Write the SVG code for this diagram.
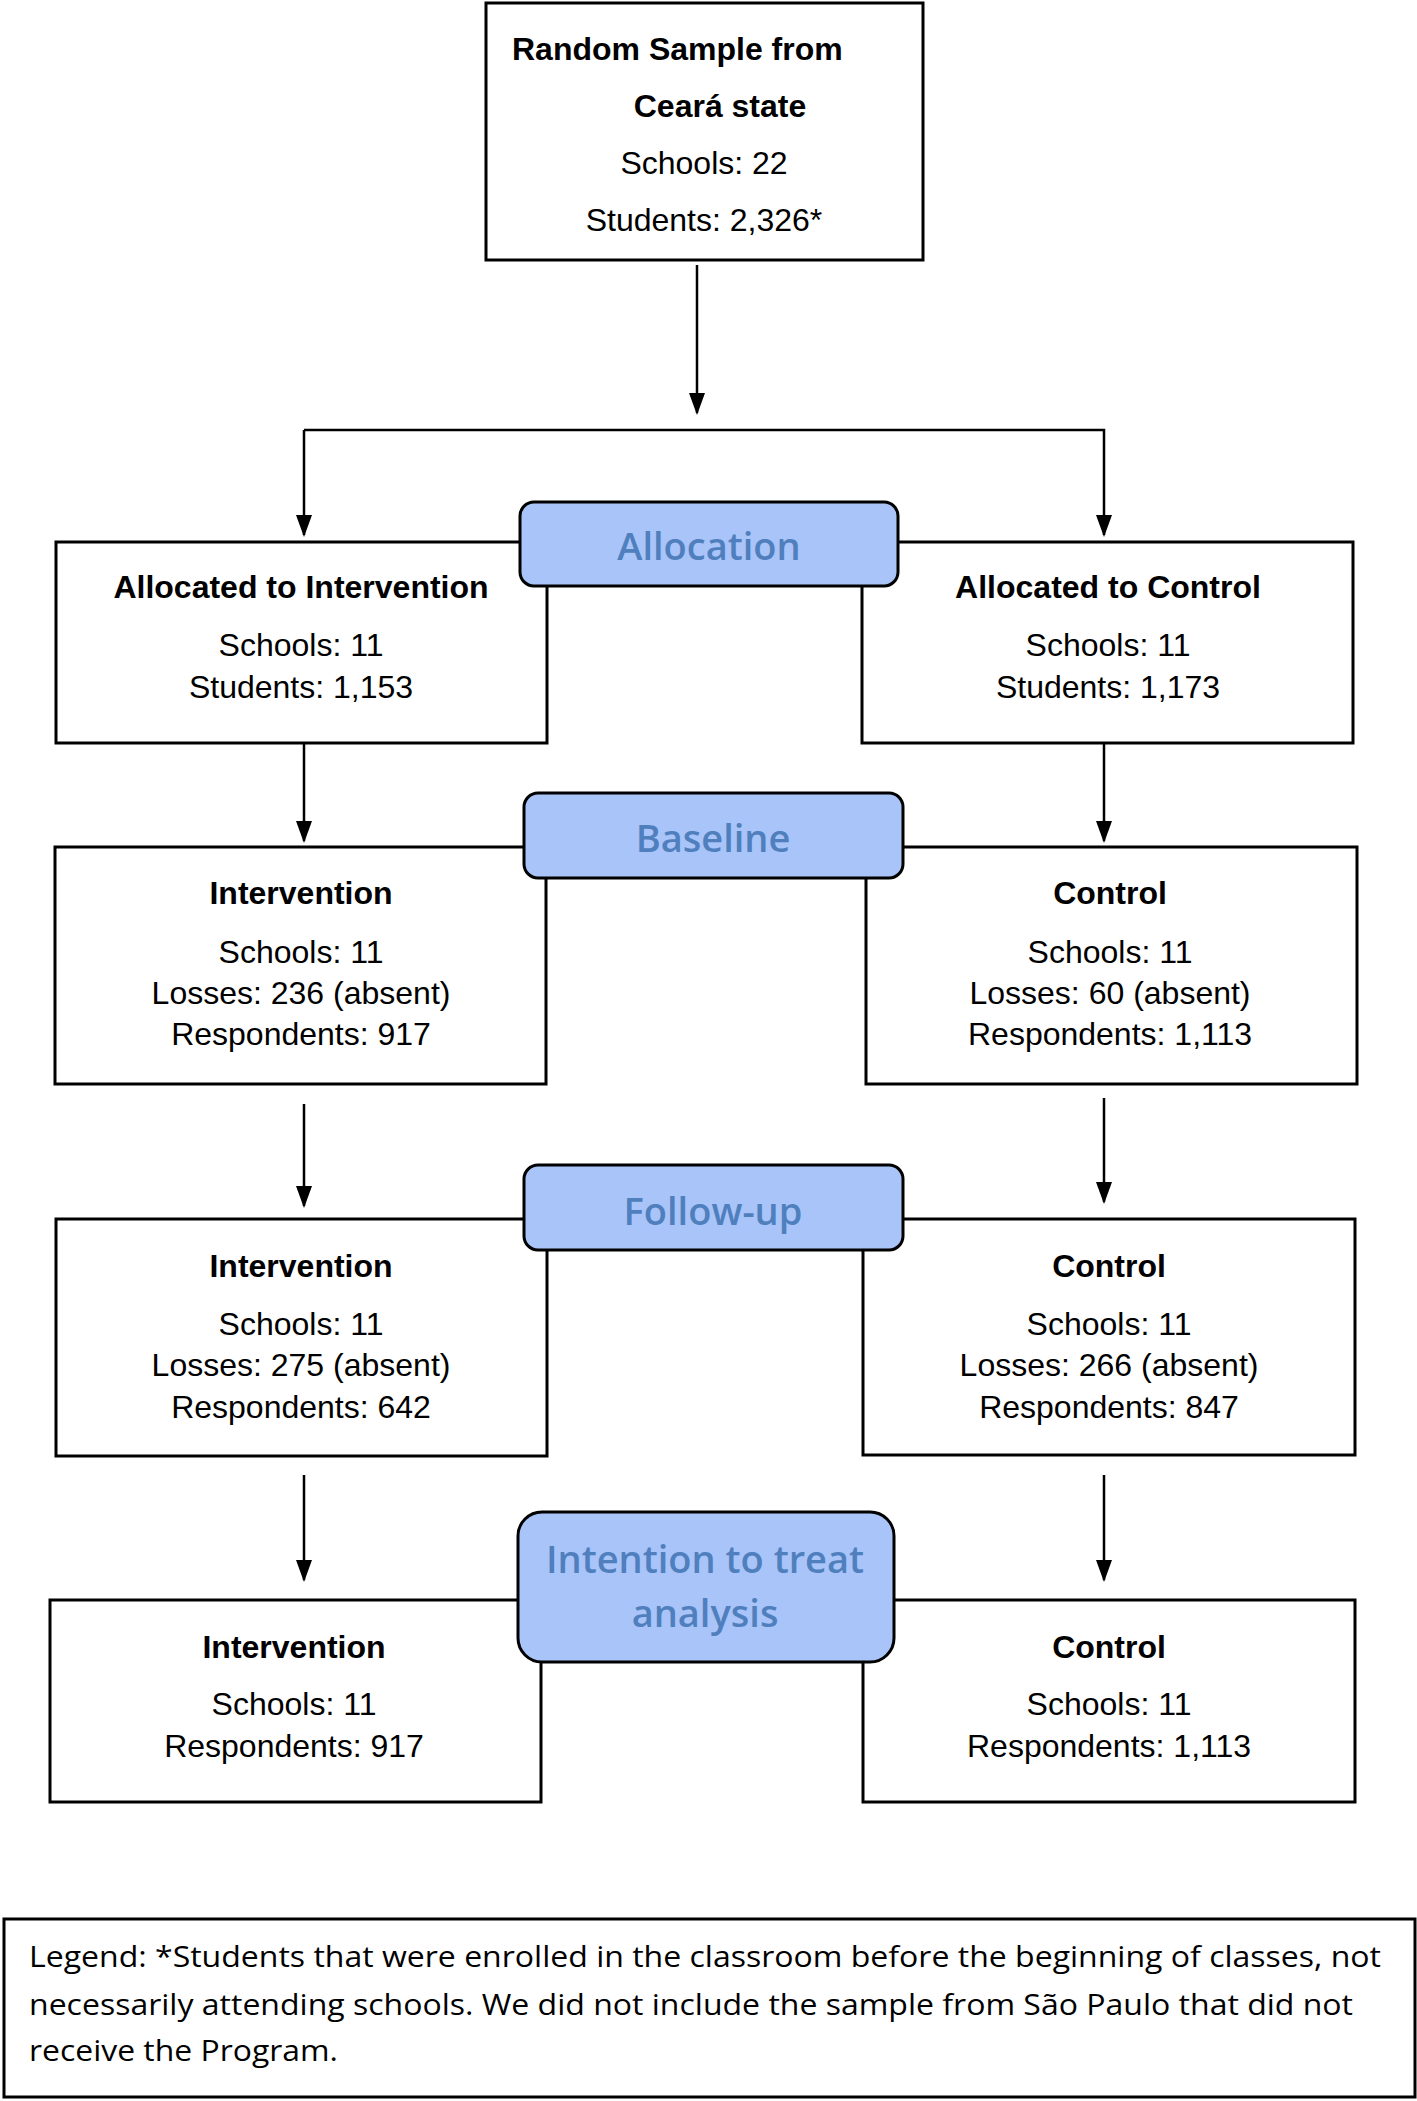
<svg xmlns="http://www.w3.org/2000/svg" width="1417" height="2101" viewBox="0 0 1417 2101">
<style>
.box{fill:#fff;stroke:#000;stroke-width:3}
.pill{fill:#a9c4f8;stroke:#000;stroke-width:3}
.t{font-family:"Liberation Sans",Arial,sans-serif;font-size:32px;text-anchor:middle;fill:#000}
.b{font-weight:bold}
.p{font-family:"Open Sans","Liberation Sans",sans-serif;font-size:38px;font-weight:600;fill:#4f7fbd;text-anchor:middle}
.l{font-family:"Open Sans","Liberation Sans",sans-serif;font-size:30px;fill:#000}
.c{stroke:#000;stroke-width:2.5;fill:none}
</style>
<defs><marker id="a" markerWidth="22" markerHeight="16" refX="20" refY="8" orient="auto" markerUnits="userSpaceOnUse" viewBox="0 0 22 16"><path d="M0,0 L22,8 L0,16 z" fill="#000"/></marker>
</defs>
<g id="connectors">
<line class="c" x1="697" y1="265" x2="697" y2="413" marker-end="url(#a)"/>
<polyline class="c" points="304,430 1104,430 1104,535" marker-end="url(#a)"/>
<line class="c" x1="304" y1="430" x2="304" y2="535" marker-end="url(#a)"/>
<line class="c" x1="304" y1="737" x2="304" y2="841" marker-end="url(#a)"/>
<line class="c" x1="1104" y1="743" x2="1104" y2="841" marker-end="url(#a)"/>
<line class="c" x1="304" y1="1104" x2="304" y2="1206" marker-end="url(#a)"/>
<line class="c" x1="1104" y1="1098" x2="1104" y2="1202" marker-end="url(#a)"/>
<line class="c" x1="304" y1="1475" x2="304" y2="1580" marker-end="url(#a)"/>
<line class="c" x1="1104" y1="1475" x2="1104" y2="1580" marker-end="url(#a)"/>
</g>
<g id="top"><rect class="box" x="486" y="3" width="437" height="257"/>
<text class="t b" x="512" y="60" style="text-anchor:start">Random Sample from</text>
<text class="t b" x="720" y="117">Ceará state</text>
<text class="t" x="704" y="174">Schools: 22</text>
<text class="t" x="704" y="231">Students: 2,326*</text></g>
<g id="allocInt"><rect class="box" x="56" y="542" width="491" height="201"/>
<text class="t b" x="301" y="598">Allocated to Intervention</text>
<text class="t" x="301" y="656">Schools: 11</text>
<text class="t" x="301" y="698">Students: 1,153</text></g>
<g id="allocCtl"><rect class="box" x="862" y="542" width="491" height="201"/>
<text class="t b" x="1108" y="598">Allocated to Control</text>
<text class="t" x="1108" y="656">Schools: 11</text>
<text class="t" x="1108" y="698">Students: 1,173</text></g>
<g id="allocation"><rect class="pill" x="520" y="502" width="378" height="84" rx="14"/>
<text class="p" x="709" y="560">Allocation</text></g>
<g id="baseInt"><rect class="box" x="55" y="847" width="491" height="237"/>
<text class="t b" x="301" y="904">Intervention</text>
<text class="t" x="301" y="963">Schools: 11</text>
<text class="t" x="301" y="1004">Losses: 236 (absent)</text>
<text class="t" x="301" y="1045">Respondents: 917</text></g>
<g id="baseCtl"><rect class="box" x="866" y="847" width="491" height="237"/>
<text class="t b" x="1110" y="904">Control</text>
<text class="t" x="1110" y="963">Schools: 11</text>
<text class="t" x="1110" y="1004">Losses: 60 (absent)</text>
<text class="t" x="1110" y="1045">Respondents: 1,113</text></g>
<g id="baseline"><rect class="pill" x="524" y="793" width="379" height="85" rx="14"/>
<text class="p" x="713" y="852">Baseline</text></g>
<g id="fuInt"><rect class="box" x="56" y="1219" width="491" height="237"/>
<text class="t b" x="301" y="1277">Intervention</text>
<text class="t" x="301" y="1335">Schools: 11</text>
<text class="t" x="301" y="1376">Losses: 275 (absent)</text>
<text class="t" x="301" y="1418">Respondents: 642</text></g>
<g id="fuCtl"><rect class="box" x="863" y="1219" width="492" height="236"/>
<text class="t b" x="1109" y="1277">Control</text>
<text class="t" x="1109" y="1335">Schools: 11</text>
<text class="t" x="1109" y="1376">Losses: 266 (absent)</text>
<text class="t" x="1109" y="1418">Respondents: 847</text></g>
<g id="followup"><rect class="pill" x="524" y="1165" width="379" height="85" rx="14"/>
<text class="p" x="713" y="1225">Follow-up</text></g>
<g id="ittInt"><rect class="box" x="50" y="1600" width="491" height="202"/>
<text class="t b" x="294" y="1658">Intervention</text>
<text class="t" x="294" y="1715">Schools: 11</text>
<text class="t" x="294" y="1757">Respondents: 917</text></g>
<g id="ittCtl"><rect class="box" x="863" y="1600" width="492" height="202"/>
<text class="t b" x="1109" y="1658">Control</text>
<text class="t" x="1109" y="1715">Schools: 11</text>
<text class="t" x="1109" y="1757">Respondents: 1,113</text></g>
<g id="itt"><rect class="pill" x="518" y="1512" width="376" height="150" rx="24"/>
<text class="p" x="705" y="1573">Intention to treat</text>
<text class="p" x="705" y="1627">analysis</text></g>
<g id="legend"><rect class="box" x="4" y="1919" width="1411" height="178"/>
<text class="l" x="29" y="1967" textLength="1352" lengthAdjust="spacingAndGlyphs">Legend: *Students that were enrolled in the classroom before the beginning of classes, not</text>
<text class="l" x="29" y="2015" textLength="1324" lengthAdjust="spacingAndGlyphs">necessarily attending schools. We did not include the sample from São Paulo that did not</text>
<text class="l" x="29" y="2061" textLength="309" lengthAdjust="spacingAndGlyphs">receive the Program.</text></g>
</svg>
